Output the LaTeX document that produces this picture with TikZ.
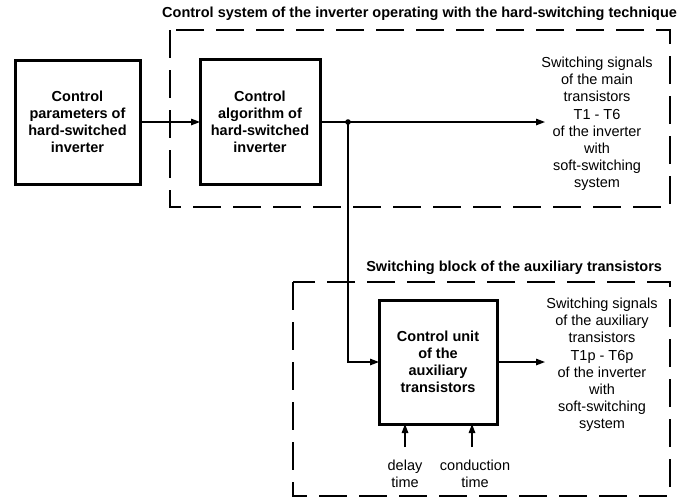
\documentclass[tikz,border=0pt]{standalone}
\usepackage{fontspec}
\setmainfont{Liberation Sans}
\usetikzlibrary{arrows.meta}
\begin{document}
\begin{tikzpicture}[x=1pt,y=-1pt,
  every node/.style={font=\fontsize{14.5}{17.2}\selectfont, inner sep=0pt, outer sep=0pt},
  blockbox/.style={draw, line width=3pt, align=center, font=\fontsize{14.5}{17.2}\selectfont\bfseries},
  dashbox/.style={line width=1.5pt, dash pattern=on 28pt off 12pt},
  conn/.style={line width=1.3pt},
  arr/.style={conn, -{Triangle[length=9pt,width=6.5pt]}},
  lbl/.style={align=center},
  ttl/.style={font=\fontsize{14.5}{17.2}\selectfont\bfseries}]
\useasboundingbox (0,0) rectangle (695,499);
% dashed groups
\draw[dashbox] (170,30) rectangle (670,207);
\draw[dashbox] (293,282) rectangle (670,496);
\node[ttl, anchor=base east] (t1) at (677,17) {Control system of the inverter operating with the hard-switching technique};
\node[ttl, anchor=base east] (t2) at (662,271) {Switching block of the auxiliary transistors};
% blocks
\node[blockbox, minimum width=125pt, minimum height=124pt] (b1) at (77.5,122) {Control\\parameters of\\hard-switched\\inverter};
\node[blockbox, minimum width=120pt, minimum height=125pt] (b2) at (260,122) {Control\\algorithm of\\hard-switched\\inverter};
\node[blockbox, minimum width=118pt, minimum height=124pt] (b3) at (438,362) {Control unit\\of the\\auxiliary\\transistors};
% output labels
\node[lbl] (o1) at (597,124) {Switching signals\\of the main\\transistors\\T1 - T6\\of the inverter\\with\\soft-switching\\system};
\node[lbl] (o2) at (602,365) {Switching signals\\of the auxiliary\\transistors\\T1p - T6p\\of the inverter\\with\\soft-switching\\system};
\node[lbl] (d1) at (405,474) {delay\\time};
\node[lbl] (d2) at (475,474) {conduction\\time};
% coordinates
\coordinate (dot) at (348,122);
\coordinate (e1) at (545,122);
\coordinate (e2) at (545,362);
\coordinate (turn) at (348,362);
\coordinate (s1) at (405,447);
\coordinate (s2) at (472,447);
% connectors
\draw[arr] (b1.east) -- (b1.east -| b2.west);
\draw[conn] (b2.east |- dot) -- (dot);
\draw[arr] (dot) -- (e1);
\draw[arr] (dot) -- (turn) -- (turn -| b3.west);
\draw[arr] (b3.east |- e2) -- (e2);
\draw[arr] (s1) -- (s1 |- b3.south);
\draw[arr] (s2) -- (s2 |- b3.south);
\fill (dot) circle (2.8pt);
\end{tikzpicture}
\end{document}
